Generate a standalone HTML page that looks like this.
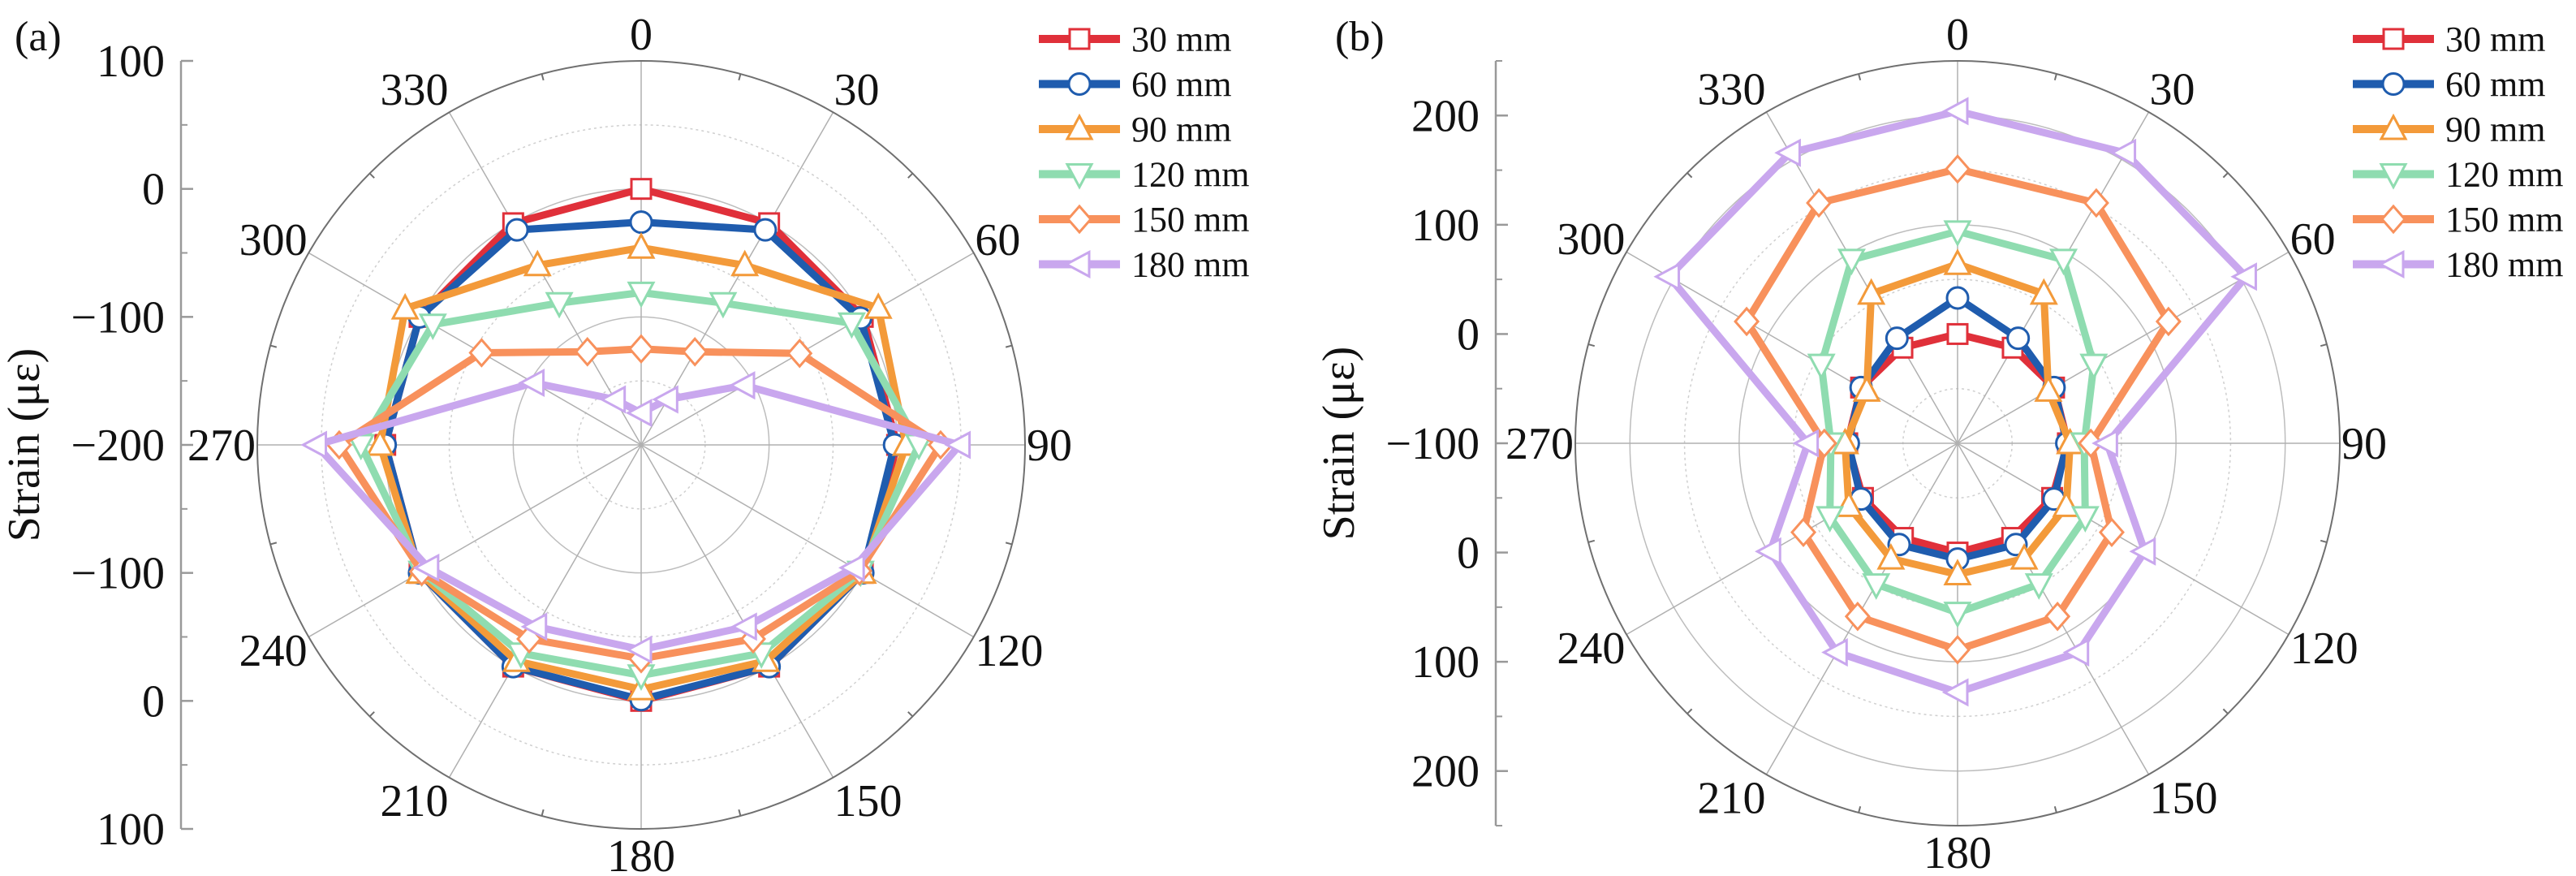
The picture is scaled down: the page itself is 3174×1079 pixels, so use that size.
<!DOCTYPE html>
<html><head><meta charset="utf-8">
<style>
html,body{margin:0;padding:0;background:#fff;}
svg{display:block;font-family:"Liberation Serif","Times New Roman",serif;}
</style></head>
<body>
<svg id="fig" width="3174" height="1079" viewBox="0 0 3174 1079" xmlns="http://www.w3.org/2000/svg"></svg>
<script>
const angles = [0,30,60,90,120,150,180,210,240,270,300,330];
const seriesNames = ["30 mm","60 mm","90 mm","120 mm","150 mm","180 mm"];
const a30 = [0,0,0,0,0,0,0,0,0,0,0,0];
const a60 = [-26,-6,-2,-2,0,0,-1,0,0,0,0,-6];
const a90 = [-46,-38,14,7,0,-5,-9,-5,0,4,13,-38];
const a120 = [-81,-72,-10,17,-2,-12,-20,-12,-2,19,-12,-72];
const a150 = [-125,-116,-57,34,-3,-25,-33,-25,-2,36,-56,-116];
const a180 = [-175,-159,-107,49,-8,-36,-40,-36,-8,54,-103,-159];
const b30 = [0,1,2,1,0,0,0,0,0,1,2,1];
const b60 = [33,11,2,0,2,7,6,7,2,0,2,11];
const b90 = [64,58,-4,3,15,22,20,22,15,3,-4,58];
const b120 = [94,94,44,16,35,49,55,49,35,16,44,94];
const b150 = [151,154,123,22,63,83,89,83,63,22,123,154];
const b180 = [204,207,205,37,98,121,128,121,98,37,205,207];
const aTicks = ["100","0","\u2212100","\u2212200","\u2212100","0","100"];
const bTicks = ["200","100","0","\u2212100","0","100","200"];

const colors = ["#e0303a","#1f5cae","#f39a3a","#8fdcb0","#f8915c","#c9a7ee"];
const markers = ["square","circle","tri-up","tri-down","diamond","tri-left"];
const NS = "http://www.w3.org/2000/svg";
const svg = document.getElementById("fig");
function mk(tag, attrs, parent){const e=document.createElementNS(NS,tag);for(const k in attrs)e.setAttribute(k,attrs[k]);(parent||svg).appendChild(e);return e;}

function marker(g, type, x, y, col){
  const s=14; let e;
  if(type==="square") e=mk("rect",{x:x-s+2,y:y-s+2,width:2*s-4,height:2*s-4},g);
  else if(type==="circle") e=mk("circle",{cx:x,cy:y,r:s-1},g);
  else {
    let pts;
    if(type==="tri-up") pts=[[x,y-s-2],[x+s+1,y+s-2],[x-s-1,y+s-2]];
    else if(type==="tri-down") pts=[[x,y+s+2],[x+s+1,y-s+2],[x-s-1,y-s+2]];
    else if(type==="diamond") pts=[[x,y-s-2],[x+s,y],[x,y+s+2],[x-s,y]];
    else pts=[[x-s-2,y],[x+s-2,y-s-1],[x+s-2,y+s+1]];
    e=mk("polygon",{points:pts.map(p=>p.join(",")).join(" ")},g);
  }
  e.setAttribute("fill","#fff");e.setAttribute("stroke",col);e.setAttribute("stroke-width","3");
  return e;
}

function polar(o){
  const g=mk("g",{});
  
  
  const cx=o.cx, cy=o.cy, R=o.R;
  const rs=v=>(v-o.min)/(o.max-o.min)*R;
  o.solid.forEach(v=>{const c=mk("circle",{cx,cy,r:rs(v),fill:"none",stroke:"#bdbdbd","stroke-width":1.5},g);});
  o.dotted.forEach(v=>{const c=mk("circle",{cx,cy,r:rs(v),fill:"none",stroke:"#cfcfcf","stroke-width":1.5,"stroke-dasharray":"3,4"},g);});
  for(let a=0;a<360;a+=30){
    const t=a*Math.PI/180, s=Math.sin(t), c=Math.cos(t);
    const l=mk("line",{x1:cx,y1:cy,x2:cx+R*s,y2:cy-R*c,stroke:"#b0b0b0","stroke-width":1.5},g);
    
    
    const w=String(a).length*28;
    const lx=cx+R*s+Math.sign(s)*(w/2)*Math.min(1,Math.abs(s)*2)+s*2;
    const ly=cy-R*c-c*33;
    const tx=mk("text",{x:lx,y:ly+19,"text-anchor":"middle","font-size":56,fill:"#111"},g);
    tx.textContent=String(a);
    
    
  }
  const oc=mk("circle",{cx,cy,r:R,fill:"none",stroke:"#707070","stroke-width":2},g);
  
  
  for(let a=15;a<360;a+=30){const t=a*Math.PI/180;mk("line",{x1:cx+R*Math.sin(t),y1:cy-R*Math.cos(t),x2:cx+(R-8)*Math.sin(t),y2:cy-(R-8)*Math.cos(t),stroke:"#707070","stroke-width":2},g);}
  const ax=o.axisX;
  const al=mk("line",{x1:ax,y1:cy-R,x2:ax,y2:cy+R,stroke:"#999","stroke-width":2.5},g);
  
  
  const step=o.tickStep;
  const n=o.ticks.length;
  const half=(n-1)/2;
  for(let i=0;i<n;i++){
    const k=i<=half?i:(n-1-i);
    const v=o.tickTop-k*step;
    const y=i<=half?cy-rs(v):cy+rs(v);
    mk("line",{x1:ax,y1:y,x2:ax+15,y2:y,stroke:"#999","stroke-width":2.5},g);
    const t=mk("text",{x:ax-20,y:y+19,"text-anchor":"end","font-size":56,fill:"#111"},g);
    t.textContent=o.ticks[i];
    
    
  }
  for(let v=o.min+step/2; v<=o.max; v+=step){
    [cy-rs(v),cy+rs(v)].forEach(my=>mk("line",{x1:ax,y1:my,x2:ax+8,y2:my,stroke:"#999","stroke-width":2},g));
  }
  const yl=mk("text",{x:o.titleX,y:cy,"text-anchor":"middle","font-size":56,fill:"#111",transform:`rotate(-90 ${o.titleX} ${cy})`},g);
  yl.textContent="Strain (\u03bc\u03b5)";
  
  
  const pl=mk("text",{x:o.panelX,y:62,"font-size":52,fill:"#111"},g);
  pl.textContent=o.panel;
  
  
  o.data.forEach((vals,si)=>{
    const sg=mk("g",{},g);
    
    
    const pts=vals.map((v,i)=>{const t=angles[i]*Math.PI/180;const r=rs(v);return [cx+r*Math.sin(t),cy-r*Math.cos(t)];});
    const p=mk("polygon",{points:pts.map(q=>q.join(",")).join(" "),fill:"none",stroke:colors[si],"stroke-width":9,"stroke-linejoin":"round"},sg);
    
    
    pts.forEach(q=>{const m=marker(sg,markers[si],q[0],q[1],colors[si]);});
  });
  seriesNames.forEach((nm,si)=>{
    const y=48+si*55.5;
    const lg=mk("g",{},g);
    
    
    mk("line",{x1:o.legX,y1:y,x2:o.legX+100,y2:y,stroke:colors[si],"stroke-width":10},lg);
    marker(lg,markers[si],o.legX+50,y,colors[si]);
    const t=mk("text",{x:o.legX+114,y:y+15,"font-size":44,fill:"#111"},lg);
    t.textContent=nm;
  });
}
polar({name:"polar-chart-a",panel:"(a)",panelX:18,cx:790,cy:548,R:473,min:-200,max:100,tickTop:100,solid:[0,-100],dotted:[-150,-50,50],axisX:223,tickStep:100,ticks:aTicks,titleX:48,data:[a30,a60,a90,a120,a150,a180],legX:1280});
polar({name:"polar-chart-b",panel:"(b)",panelX:1645,cx:2412,cy:546,R:471,min:-100,max:250,tickTop:200,solid:[0,100,200],dotted:[-50,50,150],axisX:1843,tickStep:100,ticks:bTicks,titleX:1668,data:[b30,b60,b90,b120,b150,b180],legX:2899});
</script>
</body></html>
